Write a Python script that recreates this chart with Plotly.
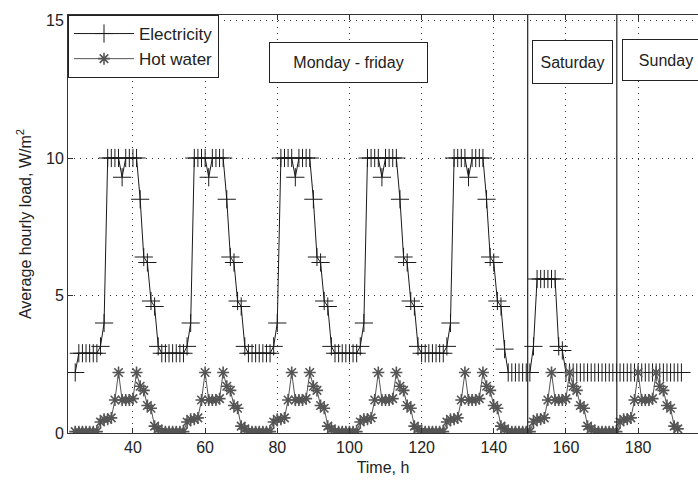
import plotly.graph_objects as go

# ---- data ----
hours_el = list(range(24, 193))
hours_hw = list(range(24, 192))

electricity = (
    # Monday 24-47
    [2.2, 2.9, 2.9, 2.9, 2.9, 2.9, 2.9, 3.15, 4.0, 10, 10, 10, 10, 9.3, 10, 10, 10, 10, 8.5, 6.4, 6.2, 4.8, 4.6, 3.15]
    # Tuesday 48-71
    + [2.9, 2.9, 2.9, 2.9, 2.9, 2.9, 2.9, 3.15, 4.0, 10, 10, 10, 10, 9.3, 10, 10, 10, 10, 8.5, 6.4, 6.2, 4.8, 4.6, 3.15]
    # Wednesday 72-95
    + [2.9, 2.9, 2.9, 2.9, 2.9, 2.9, 2.9, 3.15, 4.0, 10, 10, 10, 10, 9.3, 10, 10, 10, 10, 8.5, 6.4, 6.2, 4.8, 4.6, 3.15]
    # Thursday 96-119
    + [2.9, 2.9, 2.9, 2.9, 2.9, 2.9, 2.9, 3.15, 4.0, 10, 10, 10, 10, 9.3, 10, 10, 10, 10, 8.5, 6.4, 6.2, 4.8, 4.6, 3.15]
    # Friday 120-143
    + [2.9, 2.9, 2.9, 2.9, 2.9, 2.9, 2.9, 3.15, 4.0, 10, 10, 10, 10, 9.3, 10, 10, 10, 10, 8.5, 6.4, 6.2, 4.8, 4.6, 3.05]
    # Saturday 144-167
    + [2.2, 2.2, 2.2, 2.2, 2.2, 2.2, 2.2, 3.15, 5.6, 5.6, 5.6, 5.6, 5.6, 5.6, 3.15, 3.0, 2.2, 2.2, 2.2, 2.2, 2.2, 2.2, 2.2, 2.2]
    # Sunday 168-192
    + [2.2, 2.2, 2.2, 2.2, 2.2, 2.2, 2.2, 2.2, 2.2, 2.2, 2.2, 2.2, 2.2, 2.2, 2.2, 2.2, 2.2, 2.2, 2.2, 2.2, 2.2, 2.2, 2.2, 2.2, 2.2]
)

hot_water = (
    [0.05, 0.05, 0.05, 0.05, 0.05, 0.05, 0.05, 0.4, 0.5, 0.5, 0.55, 1.2, 2.2, 1.2, 1.2, 1.2, 1.25, 2.2, 1.7, 1.55, 1.0, 0.9, 0.25, 0.15]
    + [0.05, 0.05, 0.05, 0.05, 0.05, 0.05, 0.05, 0.4, 0.5, 0.5, 0.55, 1.2, 2.2, 1.2, 1.2, 1.2, 1.25, 2.2, 1.7, 1.55, 1.0, 0.9, 0.25, 0.15]
    + [0.05, 0.05, 0.05, 0.05, 0.05, 0.05, 0.05, 0.4, 0.5, 0.5, 0.55, 1.2, 2.2, 1.2, 1.2, 1.2, 1.25, 2.2, 1.7, 1.55, 1.0, 0.9, 0.25, 0.15]
    + [0.05, 0.05, 0.05, 0.05, 0.05, 0.05, 0.05, 0.4, 0.5, 0.5, 0.55, 1.2, 2.2, 1.2, 1.2, 1.2, 1.25, 2.2, 1.7, 1.55, 1.0, 0.9, 0.25, 0.15]
    + [0.05, 0.05, 0.05, 0.05, 0.05, 0.05, 0.05, 0.4, 0.5, 0.5, 0.55, 1.2, 2.2, 1.2, 1.2, 1.2, 1.25, 2.2, 1.7, 1.55, 1.0, 0.9, 0.25, 0.15]
    + [0.05, 0.05, 0.05, 0.05, 0.05, 0.05, 0.05, 0.4, 0.5, 0.5, 0.55, 1.2, 2.2, 1.2, 1.2, 1.2, 1.25, 2.2, 1.7, 1.55, 1.0, 0.9, 0.25, 0.15]
    + [0.05, 0.05, 0.05, 0.05, 0.05, 0.05, 0.05, 0.4, 0.5, 0.5, 0.55, 1.2, 2.2, 1.2, 1.2, 1.2, 1.25, 2.2, 1.7, 1.55, 1.0, 0.9, 0.25, 0.15]
)

x_ticks = [40, 60, 80, 100, 120, 140, 160, 180]
y_ticks = [0, 5, 10, 15]
day_bounds = [149.4, 174.1]
period_labels = ["Monday - friday", "Saturday", "Sunday"]

FONT = "Liberation Sans, Arial, sans-serif"

fig = go.Figure()
fig.add_trace(go.Scatter(
    x=hours_el, y=electricity, name="Electricity", mode="lines+markers",
    line=dict(color="#1a1a1a", width=1),
    marker=dict(symbol="cross-thin-open", size=13, line=dict(color="#1a1a1a", width=1)),
))
fig.add_trace(go.Scatter(
    x=hours_hw, y=hot_water, name="Hot water", mode="lines+markers",
    line=dict(color="#555555", width=1),
    marker=dict(symbol="asterisk-open", size=10, line=dict(color="#3a3a3a", width=1.6)),
))

for xb in day_bounds:
    fig.add_shape(type="line", xref="x", yref="paper", x0=xb, x1=xb, y0=0, y1=1,
                  line=dict(color="#222222", width=1.2))

fig.add_annotation(x=99.7, y=13.48, xref="x", yref="y", text=period_labels[0],
                   showarrow=False, bordercolor="#222", borderwidth=1, bgcolor="white",
                   width=155, height=37, font=dict(family=FONT, size=16, color="#222"))
fig.add_annotation(x=161.8, y=13.5, xref="x", yref="y", text=period_labels[1],
                   showarrow=False, bordercolor="#222", borderwidth=1, bgcolor="white",
                   width=77, height=40, font=dict(family=FONT, size=16, color="#222"))
fig.add_annotation(x=175.6, y=13.55, xref="x", yref="y", xanchor="left", text=period_labels[2],
                   showarrow=False, bordercolor="#222", borderwidth=1, bgcolor="white",
                   width=84, height=38, font=dict(family=FONT, size=16, color="#222"))

fig.update_layout(
    width=698, height=482,
    margin=dict(l=68, r=0, t=15, b=49),
    paper_bgcolor="white", plot_bgcolor="white",
    font=dict(family=FONT, size=15, color="#222"),
    showlegend=True,
    legend=dict(x=0, y=1, xanchor="left", yanchor="top", bgcolor="white",
                bordercolor="#222", borderwidth=1, font=dict(size=17),
                itemwidth=60, tracegroupgap=0),
    xaxis=dict(range=[22, 196.6], tickvals=x_ticks, ticks="inside", ticklen=5,
               tickcolor="#333", showline=True, linecolor="#333", linewidth=1, mirror="ticks",
               showgrid=True, gridcolor="#333", griddash="1px,5px", gridwidth=1, zeroline=False,
               title=dict(text="Time, h", standoff=6, font=dict(size=16)),
               tickfont=dict(size=16)),
    yaxis=dict(range=[0, 15.2], tickvals=y_ticks, ticks="inside", ticklen=5,
               tickcolor="#333", showline=True, linecolor="#333", linewidth=1,
               showgrid=True, gridcolor="#333", griddash="1px,5px", gridwidth=1, zeroline=False,
               title=dict(text="Average hourly load, W/m<sup>2</sup>", standoff=10, font=dict(size=16)),
               tickfont=dict(size=16)),
)

fig.write_html("out.html", config={"displayModeBar": False},
               post_script="document.body.style.margin='0';")
